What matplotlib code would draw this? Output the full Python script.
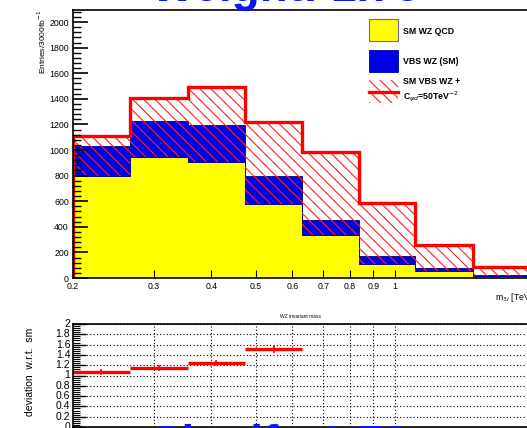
#!/usr/bin/env python3
# -*- coding: utf-8 -*-
"""
WZ invariant mass: SM QCD + VBS stack vs. SM VBS + EFT, with ratio panel
"""

import numpy as np
import matplotlib
matplotlib.use('Agg')
import matplotlib.pyplot as plt
from matplotlib.ticker import FixedLocator, NullFormatter, MultipleLocator

plt.rcParams['font.family'] = ['Liberation Sans', 'DejaVu Sans']
plt.rcParams['hatch.linewidth'] = 0.8

# %% data
bin_edges = [0.2, 0.266, 0.355, 0.473, 0.63, 0.838, 1.11, 1.48, 1.97]
qcd = [797, 943, 909, 578, 336, 109, 52, 15]
qcd_plus_vbs = [1031, 1229, 1198, 797, 453, 169, 78, 23]
qcd_plus_eft = [1112, 1409, 1490, 1219, 987, 588, 258, 88]

ratio_edges = [0.2, 0.266, 0.355, 0.473, 0.63]
ratio = [1.07, 1.14, 1.24, 1.52]
ratio_err = [0.04, 0.04, 0.04, 0.06]

xticks = [0.2, 0.3, 0.4, 0.5, 0.6, 0.7, 0.8, 0.9, 1]
xtick_labels = ['0.2', '0.3', '0.4', '0.5', '0.6', '0.7', '0.8', '0.9', '1']
ratio_ylabels = ['0', '0.2', '0.4', '0.6', '0.8', '1', '1.2', '1.4', '1.6', '1.8', '2']

W, H = 527, 428
fig = plt.figure(figsize=(W / 100, H / 100), dpi=100)

# %% upper panel
ax = fig.add_axes([73 / W, 1 - 278 / H, 460 / W, 268 / H])
ax.stairs(qcd, bin_edges, fill=True, facecolor='#ffff00', edgecolor='#7a7a50', lw=0.6)
ax.stairs(qcd_plus_vbs, bin_edges, baseline=qcd, fill=True,
          facecolor='#0000e6', edgecolor='#000080', lw=0.6)
ax.stairs(qcd_plus_eft, bin_edges, baseline=qcd, fill=True,
          facecolor='none', edgecolor='#ff2020', hatch='\\\\\\', lw=0)
ax.stairs(qcd_plus_eft, bin_edges, color='#ff0000', lw=2.4)

ax.set_xscale('log')
ax.set_xlim(0.2, 2.0)
ax.set_ylim(0, 2094)
ax.xaxis.set_major_locator(FixedLocator(xticks))
ax.xaxis.set_minor_locator(FixedLocator([]))
ax.set_xticklabels(xtick_labels)
ax.yaxis.set_major_locator(MultipleLocator(200))
ax.yaxis.set_minor_locator(MultipleLocator(40))
ax.tick_params(axis='both', which='both', direction='in', labelsize=6.3,
               top=False, right=False)
ax.tick_params(axis='y', which='major', length=11, width=1.2, pad=3)
ax.tick_params(axis='y', which='minor', length=6, width=1.0)
ax.tick_params(axis='x', which='major', length=6, width=0.8, pad=3)
for s in ax.spines.values():
    s.set_linewidth(1.2)
ax.spines['right'].set_visible(False)

fig.text(42 / W, 1 - 10 / H, 'Entries/3000fb$^{-1}$', rotation=90,
         ha='center', va='top', fontsize=6)
fig.text(495 / W, 1 - 297 / H, 'm$_{3l}$ [TeV]', ha='left', va='center',
         fontsize=6.3)

# legend (drawn by hand, ROOT style)
leg_x0, leg_w = 369 / W, 29 / W
fig.patches.append(plt.Rectangle((leg_x0, 1 - 41 / H), leg_w, 22 / H,
                                 transform=fig.transFigure, facecolor='#ffff00',
                                 edgecolor='#6a6a9a', lw=0.8))
fig.patches.append(plt.Rectangle((leg_x0, 1 - 72 / H), leg_w, 22 / H,
                                 transform=fig.transFigure, facecolor='#0000e6',
                                 edgecolor='#0000a0', lw=0.6))
fig.patches.append(plt.Rectangle((leg_x0, 1 - 103 / H), leg_w, 23 / H,
                                 transform=fig.transFigure, facecolor='none',
                                 edgecolor='#ff2020', hatch='\\\\\\', lw=0))
fig.lines.append(plt.Line2D([leg_x0, leg_x0 + leg_w], [1 - 92 / H, 1 - 92 / H],
                            transform=fig.transFigure, color='#ff0000', lw=2.4))
leg_font = dict(fontsize=6.3, fontweight='bold', ha='left', va='center')
fig.text(403 / W, 1 - 31 / H, 'SM WZ QCD', **leg_font)
fig.text(403 / W, 1 - 61 / H, 'VBS WZ (SM)', **leg_font)
fig.text(403 / W, 1 - 82 / H, 'SM VBS WZ +', **leg_font)
fig.text(403 / W, 1 - 97 / H, r'C$_{\varphi d}$=50TeV$^{-2}$', **leg_font)

# %% lower panel (ratio)
rx = fig.add_axes([73 / W, 1 - 427 / H, 460 / W, 103 / H])
centres = [np.sqrt(a * b) for a, b in zip(ratio_edges[:-1], ratio_edges[1:])]
for lo, hi, c, r, e in zip(ratio_edges[:-1], ratio_edges[1:], centres, ratio, ratio_err):
    rx.plot([lo, hi], [r, r], color='#ff0000', lw=2.4, solid_capstyle='butt')
    rx.plot([c, c], [r - e, r + e], color='#ff0000', lw=1.3)

rx.set_xscale('log')
rx.set_xlim(0.2, 2.0)
rx.set_ylim(0, 2)
rx.xaxis.set_major_locator(FixedLocator(xticks[1:]))
rx.xaxis.set_minor_locator(FixedLocator([]))
rx.xaxis.set_major_formatter(NullFormatter())
rx.yaxis.set_major_locator(MultipleLocator(0.2))
rx.yaxis.set_minor_locator(MultipleLocator(0.04))
rx.set_yticklabels([])
rx.grid(True, which='major', color='black', linestyle=(0, (1, 2)), lw=0.8)
rx.tick_params(axis='both', which='both', direction='in', top=False, right=False)
rx.tick_params(axis='y', which='major', length=9, width=1.0, pad=3)
rx.tick_params(axis='y', which='minor', length=5, width=0.8)
rx.tick_params(axis='x', which='major', length=0)
for s in rx.spines.values():
    s.set_linewidth(1.2)
rx.spines['right'].set_visible(False)
for i, lab in enumerate(ratio_ylabels):
    rx.text(-0.006, i * 0.2, lab, transform=rx.get_yaxis_transform(),
            ha='right', va='center', fontsize=7.5)

fig.text(300 / W, 1 - 317 / H, 'WZ invariant mass', ha='center', va='center',
         fontsize=3.5)
fig.text(30 / W, 1 - 372 / H, 'deviation  w.r.t.  sm', rotation=90,
         ha='center', va='center', fontsize=7.5)

# %% big blue annotations, cut by the image border
fig.text(286 / W, 1 - 1 / H, 'Weight: 1.75', ha='center', va='baseline',
         fontsize=33, fontweight='bold', color='#0a14ff')
fig.text(280 / W, 1 - 424 / H, 'Signif.: 1.73', ha='center', va='top',
         fontsize=33, fontweight='bold', color='#0a14ff')

fig.savefig('out.png', dpi=100)
